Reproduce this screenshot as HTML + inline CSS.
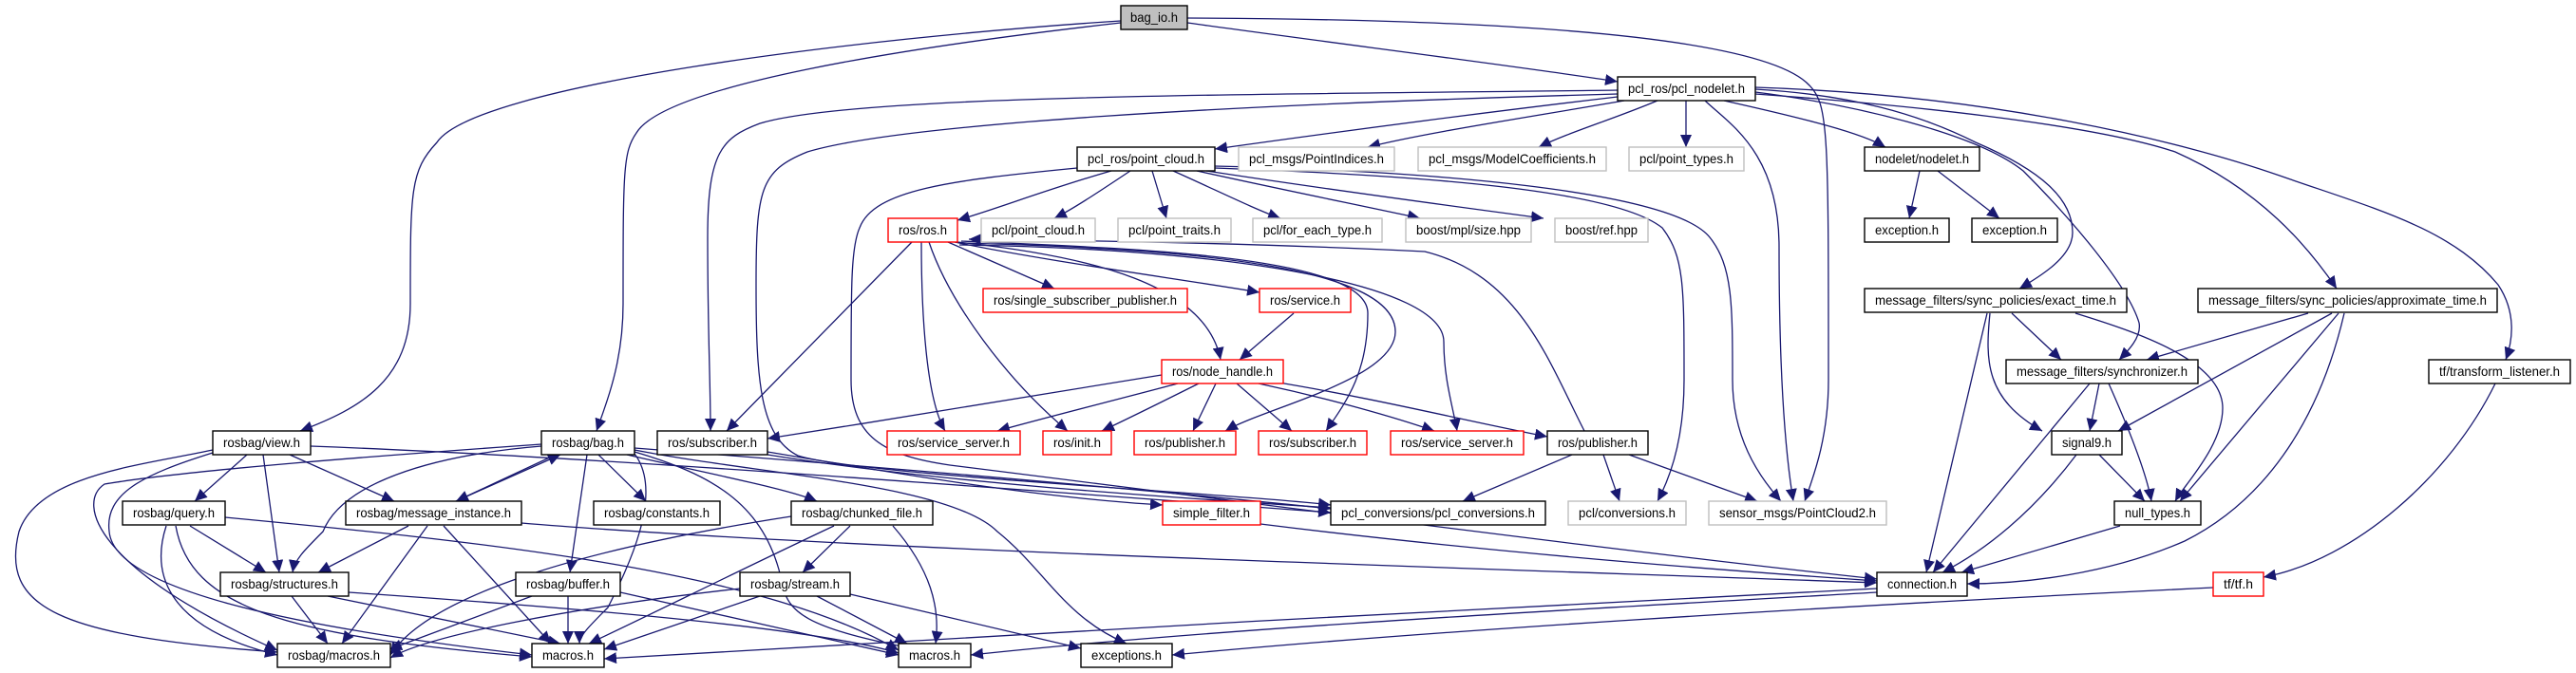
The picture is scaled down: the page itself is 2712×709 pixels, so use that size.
<!DOCTYPE html>
<html><head><meta charset="utf-8">
<style>
html,body{margin:0;padding:0;background:#fff;}
svg{display:block;}
text{font-family:"Liberation Sans",sans-serif;font-size:14px;fill:#000;}
.e{fill:none;stroke:#191970;stroke-width:1.3;marker-end:url(#a);}
.b{fill:#fff;stroke:#000;stroke-width:1.4;}
.g{fill:#bfbfbf;stroke:#000;stroke-width:1.4;}
.l{fill:#fff;stroke:#bfbfbf;stroke-width:1.4;}
.r{fill:#fff;stroke:#ff0000;stroke-width:1.4;}
</style></head><body>
<svg width="2712" height="709" viewBox="0 0 2712 709" xmlns="http://www.w3.org/2000/svg">
<defs>
<marker id="a" markerUnits="userSpaceOnUse" markerWidth="14" markerHeight="12" refX="13" refY="6" orient="auto">
<path d="M0,0 L13,6 L0,12 Z" fill="#191970"/>
</marker>
</defs>
<g>
<path class="e" d="M1180,22 C900,40 500,90 460,150 C432,180 432,200 432,320 C432,400 380,430 316,454"/>
<path class="e" d="M1180,24 C950,50 700,90 670,140 C656,160 656,180 656,320 C656,380 640,420 628,454"/>
<path class="e" d="M1250,24 C1400,45 1600,70 1703,86"/>
<path class="e" d="M1250,19 C1500,20 1850,30 1905,90 C1925,110 1925,140 1925,400 C1925,460 1910,500 1900,528"/>
<path class="e" d="M1703,95 C1300,100 900,100 800,130 C760,145 745,160 745,250 C745,350 748,400 748,454"/>
<path class="e" d="M1703,99 C1300,110 950,130 850,160 C800,180 796,200 796,300 C796,400 800,460 840,480 C900,500 1300,520 1401,532"/>
<path class="e" d="M1703,102 C1550,120 1400,140 1279,157"/>
<path class="e" d="M1710,106 C1600,125 1500,140 1440,155"/>
<path class="e" d="M1745,106 C1700,125 1650,140 1620,155"/>
<path class="e" d="M1775,106 L1775,155"/>
<path class="e" d="M1815,106 C1900,125 1960,140 1985,155"/>
<path class="e" d="M1795,106 C1820,130 1873,160 1873,260 C1873,400 1880,480 1888,528"/>
<path class="e" d="M1848,94 C1950,100 2020,120 2080,150 C2150,180 2182,210 2182,245 C2182,270 2150,290 2126,304"/>
<path class="e" d="M1848,97 C1950,110 2080,140 2130,180 C2180,230 2240,300 2252,340 C2255,355 2240,370 2231,379"/>
<path class="e" d="M1848,99 C2000,110 2200,130 2290,160 C2380,200 2430,260 2460,304"/>
<path class="e" d="M1848,92 C2100,100 2300,150 2400,185 C2500,220 2580,240 2630,300 C2650,330 2645,360 2638,379"/>
<path class="e" d="M1170,180 C1100,200 1050,220 1008,232"/>
<path class="e" d="M1190,180 C1160,200 1130,220 1110,230"/>
<path class="e" d="M1213,180 L1228,230"/>
<path class="e" d="M1235,180 C1280,200 1320,220 1348,230"/>
<path class="e" d="M1260,180 C1350,200 1450,220 1495,230"/>
<path class="e" d="M1270,180 C1400,200 1550,220 1625,230"/>
<path class="e" d="M1279,177 C1500,185 1700,200 1750,240 C1773,270 1773,300 1773,400 C1773,460 1760,500 1745,528"/>
<path class="e" d="M1279,175 C1500,180 1760,200 1800,250 C1824,280 1824,320 1824,400 C1824,460 1850,500 1875,528"/>
<path class="e" d="M1134,177 C1000,190 920,200 905,240 C896,260 896,300 896,400 C896,460 930,480 1000,490 C1400,540 1700,580 1976,610"/>
<path class="e" d="M960,255 L765,454"/>
<path class="e" d="M970,255 C970,330 975,420 995,454"/>
<path class="e" d="M978,255 C1000,320 1060,400 1124,454"/>
<path class="e" d="M998,255 L1110,304"/>
<path class="e" d="M1005,255 C1100,275 1250,295 1326,308"/>
<path class="e" d="M1008,255 C1150,270 1270,300 1285,379"/>
<path class="e" d="M1012,254 C1200,262 1440,270 1440,330 C1440,390 1420,420 1396,454"/>
<path class="e" d="M1012,256 C1250,262 1470,280 1469,350 C1468,400 1330,430 1290,454"/>
<path class="e" d="M1010,258 C1300,262 1520,300 1520,360 C1520,400 1530,430 1534,454"/>
<path class="e" d="M1668,454 C1630,380 1600,290 1500,265 C1300,255 1100,253 1020,252"/>
<path class="e" d="M1362,330 L1305,379"/>
<path class="e" d="M1223,395 C1100,415 950,440 808,462"/>
<path class="e" d="M1240,404 C1180,420 1100,440 1050,454"/>
<path class="e" d="M1262,404 C1230,420 1190,440 1160,454"/>
<path class="e" d="M1280,404 L1256,454"/>
<path class="e" d="M1302,404 L1360,454"/>
<path class="e" d="M1325,404 C1400,420 1470,440 1510,454"/>
<path class="e" d="M1340,402 C1450,420 1550,445 1629,460"/>
<path class="e" d="M1655,479 L1540,528"/>
<path class="e" d="M1688,479 L1705,528"/>
<path class="e" d="M1715,479 L1850,528"/>
<path class="e" d="M808,476 C950,500 1100,525 1224,532"/>
<path class="e" d="M808,479 C1000,510 1250,525 1401,535"/>
<path class="e" d="M1327,552 C1550,580 1800,600 1976,612"/>
<path class="e" d="M260,479 L205,528"/>
<path class="e" d="M277,479 L294,603"/>
<path class="e" d="M305,479 L415,528"/>
<path class="e" d="M224,474 C150,490 40,500 20,560 C0,640 60,670 292,687"/>
<path class="e" d="M224,477 C150,500 110,520 115,560 C120,620 300,660 560,690"/>
<path class="e" d="M327,470 C600,480 1000,510 1401,540"/>
<path class="e" d="M570,470 C450,480 360,510 340,560 C320,580 310,590 308,603"/>
<path class="e" d="M570,468 C400,480 200,495 110,510 C80,530 100,600 292,685"/>
<path class="e" d="M585,479 L480,528"/>
<path class="e" d="M480,528 L590,479"/>
<path class="e" d="M630,479 L680,528"/>
<path class="e" d="M618,479 L600,603"/>
<path class="e" d="M660,479 C750,500 830,515 860,528"/>
<path class="e" d="M668,476 C750,500 800,530 820,600 C830,640 820,660 1000,690"/>
<path class="e" d="M668,474 C800,500 1000,510 1050,560 C1100,600 1120,650 1186,678"/>
<path class="e" d="M668,472 C900,490 1200,515 1401,536"/>
<path class="e" d="M668,478 C700,520 660,600 640,640 C620,660 610,670 610,678"/>
<path class="e" d="M430,554 L335,603"/>
<path class="e" d="M450,554 L360,678"/>
<path class="e" d="M467,554 L580,678"/>
<path class="e" d="M549,551 C900,580 1600,600 1976,614"/>
<path class="e" d="M200,554 L280,603"/>
<path class="e" d="M175,554 C160,600 170,660 292,690"/>
<path class="e" d="M185,554 C200,640 300,670 560,692"/>
<path class="e" d="M237,545 C500,570 800,600 946,685"/>
<path class="e" d="M307,628 L345,678"/>
<path class="e" d="M345,628 L590,678"/>
<path class="e" d="M367,624 C600,640 850,660 946,688"/>
<path class="e" d="M560,628 L410,684"/>
<path class="e" d="M598,628 L598,678"/>
<path class="e" d="M653,624 L946,690"/>
<path class="e" d="M833,544 C600,580 450,630 411,690"/>
<path class="e" d="M878,554 C780,600 680,650 620,678"/>
<path class="e" d="M895,554 L845,603"/>
<path class="e" d="M940,554 C980,600 990,640 985,678"/>
<path class="e" d="M779,620 C600,640 450,670 411,693"/>
<path class="e" d="M800,628 L636,684"/>
<path class="e" d="M860,628 L955,678"/>
<path class="e" d="M895,626 L1138,683"/>
<path class="e" d="M1976,620 C1600,640 1000,670 636,694"/>
<path class="e" d="M1976,624 C1700,640 1300,660 1022,690"/>
<path class="e" d="M2330,619 C1900,640 1500,665 1234,690"/>
<path class="e" d="M2627,404 C2580,500 2480,590 2383,608"/>
<path class="e" d="M2021,180 L2010,230"/>
<path class="e" d="M2040,180 L2105,230"/>
<path class="e" d="M2118,330 L2170,379"/>
<path class="e" d="M2095,330 C2090,380 2090,420 2150,454"/>
<path class="e" d="M2185,330 C2250,350 2340,380 2340,430 C2340,470 2300,510 2290,528"/>
<path class="e" d="M2092,330 L2028,603"/>
<path class="e" d="M2430,330 L2260,379"/>
<path class="e" d="M2455,330 L2230,454"/>
<path class="e" d="M2462,330 L2295,528"/>
<path class="e" d="M2468,330 C2440,450 2380,530 2300,570 C2220,605 2130,615 2071,615"/>
<path class="e" d="M2210,404 L2200,454"/>
<path class="e" d="M2220,404 C2245,460 2260,500 2265,528"/>
<path class="e" d="M2200,404 L2035,603"/>
<path class="e" d="M2210,479 L2258,528"/>
<path class="e" d="M2186,479 C2140,540 2090,580 2045,603"/>
<path class="e" d="M2232,554 L2065,603"/>
</g>
<g>
<rect class="g" x="1180" y="6" width="70" height="25"/><text x="1215" y="23" text-anchor="middle" textLength="50" lengthAdjust="spacingAndGlyphs">bag_io.h</text>
<rect class="b" x="1703" y="81" width="145" height="25"/><text x="1775.5" y="98" text-anchor="middle" textLength="123" lengthAdjust="spacingAndGlyphs">pcl_ros/pcl_nodelet.h</text>
<rect class="b" x="1134" y="155" width="145" height="25"/><text x="1206.5" y="172" text-anchor="middle" textLength="123" lengthAdjust="spacingAndGlyphs">pcl_ros/point_cloud.h</text>
<rect class="l" x="1304" y="155" width="164" height="25"/><text x="1386" y="172" text-anchor="middle" textLength="142" lengthAdjust="spacingAndGlyphs">pcl_msgs/PointIndices.h</text>
<rect class="l" x="1493" y="155" width="198" height="25"/><text x="1592" y="172" text-anchor="middle" textLength="176" lengthAdjust="spacingAndGlyphs">pcl_msgs/ModelCoefficients.h</text>
<rect class="l" x="1715" y="155" width="121" height="25"/><text x="1775.5" y="172" text-anchor="middle" textLength="99" lengthAdjust="spacingAndGlyphs">pcl/point_types.h</text>
<rect class="b" x="1963" y="155" width="121" height="25"/><text x="2023.5" y="172" text-anchor="middle" textLength="99" lengthAdjust="spacingAndGlyphs">nodelet/nodelet.h</text>
<rect class="r" x="935" y="230" width="73" height="25"/><text x="971.5" y="247" text-anchor="middle" textLength="51" lengthAdjust="spacingAndGlyphs">ros/ros.h</text>
<rect class="l" x="1033" y="230" width="120" height="25"/><text x="1093" y="247" text-anchor="middle" textLength="98" lengthAdjust="spacingAndGlyphs">pcl/point_cloud.h</text>
<rect class="l" x="1177" y="230" width="119" height="25"/><text x="1236.5" y="247" text-anchor="middle" textLength="97" lengthAdjust="spacingAndGlyphs">pcl/point_traits.h</text>
<rect class="l" x="1319" y="230" width="136" height="25"/><text x="1387" y="247" text-anchor="middle" textLength="114" lengthAdjust="spacingAndGlyphs">pcl/for_each_type.h</text>
<rect class="l" x="1480" y="230" width="132" height="25"/><text x="1546" y="247" text-anchor="middle" textLength="110" lengthAdjust="spacingAndGlyphs">boost/mpl/size.hpp</text>
<rect class="l" x="1637" y="230" width="98" height="25"/><text x="1686" y="247" text-anchor="middle" textLength="76" lengthAdjust="spacingAndGlyphs">boost/ref.hpp</text>
<rect class="b" x="1963" y="230" width="89" height="25"/><text x="2007.5" y="247" text-anchor="middle" textLength="67" lengthAdjust="spacingAndGlyphs">exception.h</text>
<rect class="b" x="2076" y="230" width="90" height="25"/><text x="2121" y="247" text-anchor="middle" textLength="68" lengthAdjust="spacingAndGlyphs">exception.h</text>
<rect class="r" x="1035" y="304" width="215" height="25"/><text x="1142.5" y="321" text-anchor="middle" textLength="193" lengthAdjust="spacingAndGlyphs">ros/single_subscriber_publisher.h</text>
<rect class="r" x="1326" y="304" width="96" height="25"/><text x="1374" y="321" text-anchor="middle" textLength="74" lengthAdjust="spacingAndGlyphs">ros/service.h</text>
<rect class="b" x="1963" y="304" width="276" height="25"/><text x="2101" y="321" text-anchor="middle" textLength="254" lengthAdjust="spacingAndGlyphs">message_filters/sync_policies/exact_time.h</text>
<rect class="b" x="2314" y="304" width="315" height="25"/><text x="2471.5" y="321" text-anchor="middle" textLength="293" lengthAdjust="spacingAndGlyphs">message_filters/sync_policies/approximate_time.h</text>
<rect class="r" x="1223" y="379" width="128" height="25"/><text x="1287" y="396" text-anchor="middle" textLength="106" lengthAdjust="spacingAndGlyphs">ros/node_handle.h</text>
<rect class="b" x="2112" y="379" width="202" height="25"/><text x="2213" y="396" text-anchor="middle" textLength="180" lengthAdjust="spacingAndGlyphs">message_filters/synchronizer.h</text>
<rect class="b" x="2557" y="379" width="149" height="25"/><text x="2631.5" y="396" text-anchor="middle" textLength="127" lengthAdjust="spacingAndGlyphs">tf/transform_listener.h</text>
<rect class="b" x="224" y="454" width="103" height="25"/><text x="275.5" y="471" text-anchor="middle" textLength="81" lengthAdjust="spacingAndGlyphs">rosbag/view.h</text>
<rect class="b" x="570" y="454" width="98" height="25"/><text x="619" y="471" text-anchor="middle" textLength="76" lengthAdjust="spacingAndGlyphs">rosbag/bag.h</text>
<rect class="b" x="692" y="454" width="116" height="25"/><text x="750" y="471" text-anchor="middle" textLength="94" lengthAdjust="spacingAndGlyphs">ros/subscriber.h</text>
<rect class="r" x="934" y="454" width="140" height="25"/><text x="1004" y="471" text-anchor="middle" textLength="118" lengthAdjust="spacingAndGlyphs">ros/service_server.h</text>
<rect class="r" x="1098" y="454" width="72" height="25"/><text x="1134" y="471" text-anchor="middle" textLength="50" lengthAdjust="spacingAndGlyphs">ros/init.h</text>
<rect class="r" x="1194" y="454" width="107" height="25"/><text x="1247.5" y="471" text-anchor="middle" textLength="85" lengthAdjust="spacingAndGlyphs">ros/publisher.h</text>
<rect class="r" x="1325" y="454" width="114" height="25"/><text x="1382" y="471" text-anchor="middle" textLength="92" lengthAdjust="spacingAndGlyphs">ros/subscriber.h</text>
<rect class="r" x="1464" y="454" width="140" height="25"/><text x="1534" y="471" text-anchor="middle" textLength="118" lengthAdjust="spacingAndGlyphs">ros/service_server.h</text>
<rect class="b" x="1629" y="454" width="106" height="25"/><text x="1682" y="471" text-anchor="middle" textLength="84" lengthAdjust="spacingAndGlyphs">ros/publisher.h</text>
<rect class="b" x="2160" y="454" width="74" height="25"/><text x="2197" y="471" text-anchor="middle" textLength="52" lengthAdjust="spacingAndGlyphs">signal9.h</text>
<rect class="b" x="129" y="528" width="108" height="25"/><text x="183" y="545" text-anchor="middle" textLength="86" lengthAdjust="spacingAndGlyphs">rosbag/query.h</text>
<rect class="b" x="364" y="528" width="185" height="25"/><text x="456.5" y="545" text-anchor="middle" textLength="163" lengthAdjust="spacingAndGlyphs">rosbag/message_instance.h</text>
<rect class="b" x="625" y="528" width="133" height="25"/><text x="691.5" y="545" text-anchor="middle" textLength="111" lengthAdjust="spacingAndGlyphs">rosbag/constants.h</text>
<rect class="b" x="833" y="528" width="149" height="25"/><text x="907.5" y="545" text-anchor="middle" textLength="127" lengthAdjust="spacingAndGlyphs">rosbag/chunked_file.h</text>
<rect class="r" x="1224" y="528" width="103" height="25"/><text x="1275.5" y="545" text-anchor="middle" textLength="81" lengthAdjust="spacingAndGlyphs">simple_filter.h</text>
<rect class="b" x="1401" y="528" width="226" height="25"/><text x="1514" y="545" text-anchor="middle" textLength="204" lengthAdjust="spacingAndGlyphs">pcl_conversions/pcl_conversions.h</text>
<rect class="l" x="1651" y="528" width="124" height="25"/><text x="1713" y="545" text-anchor="middle" textLength="102" lengthAdjust="spacingAndGlyphs">pcl/conversions.h</text>
<rect class="l" x="1799" y="528" width="187" height="25"/><text x="1892.5" y="545" text-anchor="middle" textLength="165" lengthAdjust="spacingAndGlyphs">sensor_msgs/PointCloud2.h</text>
<rect class="b" x="2226" y="528" width="91" height="25"/><text x="2271.5" y="545" text-anchor="middle" textLength="69" lengthAdjust="spacingAndGlyphs">null_types.h</text>
<rect class="b" x="232" y="603" width="135" height="25"/><text x="299.5" y="620" text-anchor="middle" textLength="113" lengthAdjust="spacingAndGlyphs">rosbag/structures.h</text>
<rect class="b" x="543" y="603" width="110" height="25"/><text x="598" y="620" text-anchor="middle" textLength="88" lengthAdjust="spacingAndGlyphs">rosbag/buffer.h</text>
<rect class="b" x="779" y="603" width="116" height="25"/><text x="837" y="620" text-anchor="middle" textLength="94" lengthAdjust="spacingAndGlyphs">rosbag/stream.h</text>
<rect class="b" x="1976" y="603" width="95" height="25"/><text x="2023.5" y="620" text-anchor="middle" textLength="73" lengthAdjust="spacingAndGlyphs">connection.h</text>
<rect class="r" x="2330" y="603" width="53" height="25"/><text x="2356.5" y="620" text-anchor="middle" textLength="31" lengthAdjust="spacingAndGlyphs">tf/tf.h</text>
<rect class="b" x="292" y="678" width="119" height="25"/><text x="351.5" y="695" text-anchor="middle" textLength="97" lengthAdjust="spacingAndGlyphs">rosbag/macros.h</text>
<rect class="b" x="560" y="678" width="76" height="25"/><text x="598" y="695" text-anchor="middle" textLength="54" lengthAdjust="spacingAndGlyphs">macros.h</text>
<rect class="b" x="946" y="678" width="76" height="25"/><text x="984" y="695" text-anchor="middle" textLength="54" lengthAdjust="spacingAndGlyphs">macros.h</text>
<rect class="b" x="1138" y="678" width="96" height="25"/><text x="1186" y="695" text-anchor="middle" textLength="74" lengthAdjust="spacingAndGlyphs">exceptions.h</text>
</g>
</svg>
</body></html>
